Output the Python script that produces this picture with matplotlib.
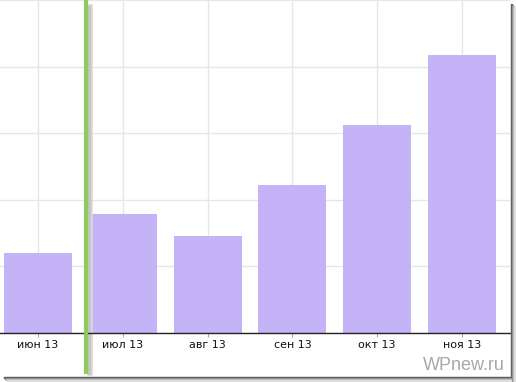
import matplotlib.pyplot as plt
from matplotlib.patches import Rectangle

months = ['июн 13', 'июл 13', 'авг 13', 'сен 13', 'окт 13', 'ноя 13']
values = [120, 178, 146, 222, 312, 418]
marker_pos = 0.566

W, H = 516, 382
fig = plt.figure(figsize=(W / 100, H / 100), dpi=100)
fig.patch.set_facecolor('white')

# axes box in pixels: left 0, right 510, top 0, bottom 333
ax = fig.add_axes([0, (H - 333) / H, 510 / W, 333 / H])
x = range(len(months))
ax.bar(x, values, width=0.8, color='#c4b3f7', zorder=2)
ax.set_xlim(-0.448, 5.566)
ax.set_ylim(0, 500)

ax.set_yticks([0, 100, 200, 300, 400, 500])
ax.set_yticklabels([])
ax.tick_params(axis='y', length=0)
ax.set_xticks(list(x))
ax.set_xticklabels(months, fontsize=8, color='#111111')
ax.tick_params(axis='x', length=3, color='#aaaaaa', pad=2)
ax.grid(True, color='#e6e6e6', linewidth=1, zorder=0)
for s in ['top', 'right', 'left']:
    ax.spines[s].set_visible(False)
ax.spines['bottom'].set_color('#222222')
ax.spines['bottom'].set_linewidth(1)
ax.spines['bottom'].set_zorder(3)

# green marker line with soft shadow
ax.axvline(marker_pos + 0.045, ymin=-0.12, ymax=0.98, color='#d8d8d8',
           linewidth=4, clip_on=False, zorder=3)
ax.axvline(marker_pos + 0.035, ymin=-0.12, ymax=0.98, color='#c4c4c4',
           linewidth=2, clip_on=False, zorder=3)
ax.axvline(marker_pos, ymin=-0.117, ymax=0.994, color='#8ccb5e',
           linewidth=3, clip_on=False, zorder=4)

# watermark
fig.text(505 / W, 1 - 366 / H, 'WPnew.ru', ha='right', va='center',
         fontsize=13, color='#a8a8a8', family='Liberation Sans')

# screenshot shadow border (dark to light)
for i, c in enumerate(['#555555', '#8a8a8a', '#b5b5b5', '#dddddd']):
    fig.patches.append(Rectangle(((511 + i) / W, 0), 1 / W, 1 - (4 + i) / H,
                                 transform=fig.transFigure, color=c, zorder=0))
    fig.patches.append(Rectangle(((4 + i) / W, (4 - i) / H), (507 - i) / W, 1 / H,
                                 transform=fig.transFigure, color=c, zorder=0))

fig.savefig('out.png', dpi=100)
